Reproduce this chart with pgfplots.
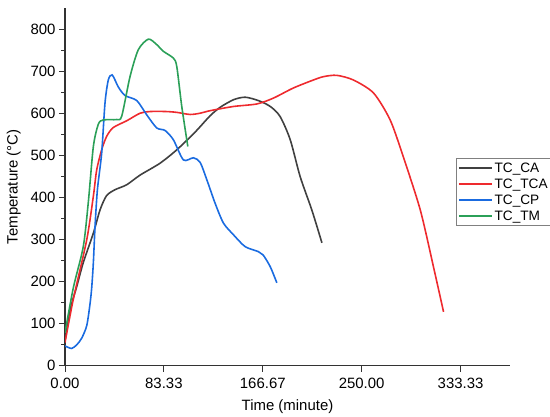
\documentclass[border=0pt]{standalone}
\usepackage{pgfplots}
\pgfplotsset{compat=1.18}
\usepackage{fontspec}
\setmainfont{Liberation Sans}
\definecolor{cCA}{HTML}{404040}
\definecolor{cTCA}{HTML}{EE2A2E}
\definecolor{cCP}{HTML}{1A6BE0}
\definecolor{cTM}{HTML}{2BA058}
\definecolor{axc}{HTML}{333333}
\begin{document}
\begin{tikzpicture}
\begin{axis}[
  scale only axis,
  width=445bp, height=357.7bp,
  xmin=0, xmax=375, ymin=0, ymax=850,
  axis x line*=bottom, axis y line*=left,
  axis line style={-, line width=1.1pt, color=axc},
  tick align=outside,
  major tick length=6bp, minor tick length=3.5bp,
  every tick/.style={line width=1pt, color=axc},
  xtick={0,83.333,166.667,250,333.333},
  xticklabels={0.00,83.33,166.67,250.00,333.33},
  minor x tick num=1,
  ytick={0,100,...,800},
  minor y tick num=1,
  /pgf/number format/assume math mode=true,
  tick label style={font=\fontsize{15}{17}\selectfont, color=black},
  xticklabel style={yshift=-3bp},
  label style={font=\fontsize{15}{17}\selectfont},
  xlabel={Time (minute)},
  ylabel={Temperature (°C)},
  xlabel style={yshift=-4bp},
  ylabel style={yshift=3bp},
  legend style={at={(rel axis cs:0.878,0.58)}, anchor=north west,
    draw=gray, line width=0.6pt, font=\fontsize{13.7}{15}\selectfont,
    inner xsep=2pt, inner ysep=2pt, row sep=1pt},
  legend cell align=left,
  legend image code/.code={\draw[#1] (0bp,0bp) -- (33bp,0bp);},
  every axis plot/.append style={line width=1.6pt, smooth, tension=0.45},
]
\addplot[cCA] coordinates {
(0,60) (5,140) (9.9,188) (15.4,245) (23.9,315) (29.5,370) (35,404) (42,418)
(52,430) (63.3,453) (80,481) (94.2,513) (108.2,551) (113.9,568) (122.3,594)
(130.7,614) (142,632) (151.8,638) (163,630) (173,616) (181.3,592) (189.8,537)
(198.2,449) (208,370) (216.5,292)};
\addlegendentry{TC\_CA}
\addplot[cTCA] coordinates {
(0,55) (7,158) (18.3,299) (24,405) (26.7,465) (30.9,513) (35.1,545) (40.7,566)
(52,582) (63.3,600) (71.7,604) (85,604) (94.2,602) (105.4,597) (113.9,600)
(122.3,606) (142,616) (161.7,622) (175.7,636) (192.5,660) (209.4,679) (218,687)
(229,690) (243,679) (260,648) (274,584) (285,497) (299.4,370) (310.5,235) (319,128)};
\addlegendentry{TC\_TCA}
\addplot[cCP] coordinates {
(0,47) (5.6,41) (10,50) (14,65) (18.3,95) (21,145) (22.5,185) (23.9,245)
(25.3,330) (27.3,418) (30.9,505) (33.7,624) (36.5,679) (39.8,691) (45,662)
(50.6,642) (60.5,630) (68.9,596) (77.3,565) (84.3,559) (91.3,537) (99.8,489)
(108.2,494) (113.9,483) (119.5,442) (126.5,386) (133.5,339) (142,311)
(151.8,283) (163,271) (167,263) (173,235) (178.5,197)};
\addlegendentry{TC\_CP}
\addplot[cTM] coordinates {
(0,78) (7,185) (15.4,283) (19.7,390) (23.9,521) (28.1,574) (32.3,584) (43.6,585)
(47.8,593) (54.8,687) (61.8,751) (70.3,776) (77.3,763) (82.9,747) (91.3,731)
(94.2,711) (98.4,616) (103.5,521)};
\addlegendentry{TC\_TM}
\end{axis}
\pgfresetboundingbox
\path[use as bounding box] (-65bp,-51.3bp) rectangle (485bp,365.7bp);
\end{tikzpicture}
\end{document}
